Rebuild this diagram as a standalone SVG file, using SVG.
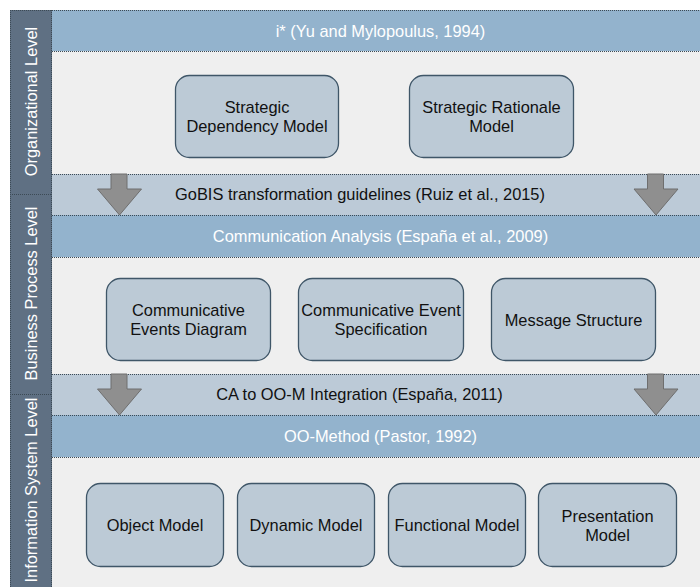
<svg xmlns="http://www.w3.org/2000/svg" width="700" height="587" viewBox="0 0 700 587">
  <style>
    text { font-family: "Liberation Sans", Helvetica, Arial, sans-serif; font-size: 16.4px; text-anchor: middle; }
    .side { fill: #5f7083; }
    .hdr { fill: #93b3cd; }
    .trf { fill: #bccad7; }
    .body { fill: #efefef; }
    .sep { stroke: #3c4a55; stroke-width: 1; stroke-dasharray: 1 1; fill: none; }
    .node rect { fill: #bccad6; stroke: #3f5668; stroke-width: 1.3; }
    .node text { fill: #111; }
    .white { fill: #ffffff; }
    .dark { fill: #111; }
    .arrow { fill: #8f8f8f; stroke: #6e6e6e; stroke-width: 1; }
  </style>
  <defs>
    <polygon id="down" class="arrow" points="-8.5,0 7.5,0 7.5,15 22,15 0,41 -22,15 -8.5,15"/>
  </defs>

  <rect x="0" y="0" width="700" height="587" fill="#ffffff"/>

  <!-- level bands -->
  <g id="bands">
    <rect class="hdr" x="52" y="10" width="650" height="41"/>
    <rect class="body" x="52" y="51" width="650" height="123"/>
    <rect class="trf" x="52" y="174" width="650" height="41"/>
    <rect class="hdr" x="52" y="215" width="650" height="42"/>
    <rect class="body" x="52" y="257" width="650" height="117"/>
    <rect class="trf" x="52" y="374" width="650" height="41"/>
    <rect class="hdr" x="52" y="415" width="650" height="42"/>
    <rect class="body" x="52" y="457" width="650" height="132"/>
    <rect class="side" x="10" y="10" width="42" height="579"/>
    <path class="sep" d="M10,10.5 H702 M52,51.5 H702 M52,174.5 H702 M52,215.5 H702 M52,257.5 H702 M52,374.5 H702 M52,415.5 H702 M52,457.5 H702"/>
    <path class="sep" d="M10.5,10 V589 M51.5,10 V589 M10,194.5 H52 M10,394.5 H52"/>
  </g>

  <!-- level labels -->
  <g id="level-labels" class="white">
    <text transform="translate(37,101.5) rotate(-90)">Organizational Level</text>
    <text transform="translate(37,293.5) rotate(-90)">Business Process Level</text>
    <text transform="translate(37,490) rotate(-90)">Information System Level</text>
  </g>

  <!-- band titles -->
  <g id="band-titles">
    <text class="white" x="380.5" y="36.5">i* (Yu and Mylopoulus, 1994)</text>
    <text class="dark" x="360" y="200">GoBIS transformation guidelines (Ruiz et al., 2015)</text>
    <text class="white" x="380.5" y="242">Communication Analysis (España et al., 2009)</text>
    <text class="dark" x="359.5" y="400">CA to OO-M Integration (España, 2011)</text>
    <text class="white" x="380.5" y="442">OO-Method (Pastor, 1992)</text>
  </g>

  <!-- transformation arrows -->
  <g id="connectors">
    <use href="#down" x="119.5" y="174"/>
    <use href="#down" x="656" y="174"/>
    <use href="#down" x="119.5" y="374"/>
    <use href="#down" x="656" y="374"/>
  </g>

  <!-- organizational level models -->
  <g id="strategic-dependency" class="node">
    <rect x="175.5" y="75.5" width="163" height="82" rx="14"/>
    <text x="257" y="113">Strategic</text>
    <text x="257" y="132">Dependency Model</text>
  </g>
  <g id="strategic-rationale" class="node">
    <rect x="409.5" y="75.5" width="164" height="82" rx="14"/>
    <text x="491.5" y="113">Strategic Rationale</text>
    <text x="491.5" y="132">Model</text>
  </g>

  <!-- business process level models -->
  <g id="communicative-events-diagram" class="node">
    <rect x="106.5" y="278.5" width="164" height="82" rx="14"/>
    <text x="188.5" y="316">Communicative</text>
    <text x="188.5" y="335">Events Diagram</text>
  </g>
  <g id="communicative-event-specification" class="node">
    <rect x="298.5" y="278.5" width="165" height="82" rx="14"/>
    <text x="381" y="316">Communicative Event</text>
    <text x="381" y="335">Specification</text>
  </g>
  <g id="message-structure" class="node">
    <rect x="491.5" y="278.5" width="164" height="82" rx="14"/>
    <text x="573.5" y="325.5">Message Structure</text>
  </g>

  <!-- information system level models -->
  <g id="object-model" class="node">
    <rect x="86.5" y="483.5" width="137" height="83" rx="14"/>
    <text x="155" y="531">Object Model</text>
  </g>
  <g id="dynamic-model" class="node">
    <rect x="237.5" y="483.5" width="137" height="83" rx="14"/>
    <text x="306" y="531">Dynamic Model</text>
  </g>
  <g id="functional-model" class="node">
    <rect x="388.5" y="483.5" width="137" height="83" rx="14"/>
    <text x="457" y="531">Functional Model</text>
  </g>
  <g id="presentation-model" class="node">
    <rect x="538.5" y="483.5" width="138" height="83" rx="14"/>
    <text x="607.5" y="522">Presentation</text>
    <text x="607.5" y="541">Model</text>
  </g>
</svg>
